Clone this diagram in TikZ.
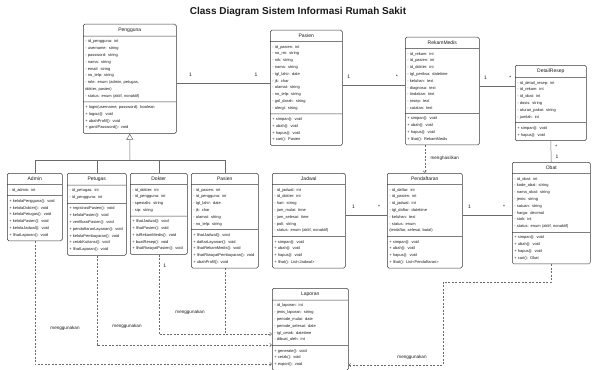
\documentclass[tikz,border=0pt]{standalone}
\usepackage{fontspec}
\setmainfont{Liberation Sans}
\usepackage{tikz}
\usetikzlibrary{positioning, calc}
\usetikzlibrary{arrows.meta, shapes.multipart}

\newcommand{\umlname}[1]{{\centering\fontsize{5}{6}\selectfont #1\par}}

\begin{document}
\begin{tikzpicture}[x=1pt, y=-1pt, font=\fontsize{4}{6.8}\selectfont, line width=0.5pt,
        classbox/.style={draw=boxgray, rectangle split, rectangle split parts=3, rounded corners=1.5pt,
            align=left, inner xsep=2pt, inner ysep=3.5pt, anchor=north west, text=textgray},
        assoc/.style={draw=linegray},
        dep/.style={draw=linegray, dash pattern=on 2pt off 1.5pt, -{Straight Barb[length=2pt, width=3.5pt]}},
        mult/.style={font=\fontsize{5}{6}\selectfont, text=textgray},
        note/.style={font=\fontsize{4.6}{6}\selectfont, text=textgray}]
        % Define colors
        \definecolor{boxgray}{rgb}{0.22, 0.22, 0.22}
        \definecolor{linegray}{rgb}{0.42, 0.42, 0.42}
        \definecolor{textgray}{rgb}{0.1, 0.1, 0.1}

        \useasboundingbox (0,0) rectangle (593,369);

        % Title
        \node[font=\fontsize{10}{12}\selectfont\bfseries, text=textgray] (title) at (298,12) {Class Diagram Sistem Informasi Rumah Sakit};

        % Nodes
        \node[classbox, text width=89pt] (pengguna) at (83,24) {\umlname{Pengguna}
            \nodepart{two}- id\_pengguna: int\\- username: string\\- password: string\\- nama: string\\- email: string\\- no\_telp: string\\- role: enum (admin, petugas,\\ dokter, pasien)\\- status: enum (aktif, nonaktif)
            \nodepart{three}+ login(username, password): boolean\\+ logout(): void\\+ ubahProfil(): void\\+ gantiPassword(): void};
        \node[classbox, text width=68pt] (pasien) at (270,30) {\umlname{Pasien}
            \nodepart{two}- id\_pasien: int\\- no\_rm: string\\- nik: string\\- nama: string\\- tgl\_lahir: date\\- jk: char\\- alamat: string\\- no\_telp: string\\- gol\_darah: string\\- alergi: string
            \nodepart{three}+ simpan(): void\\+ ubah(): void\\+ hapus(): void\\+ cari(): Pasien};
        \node[classbox, text width=70pt] (rekammedis) at (405,37) {\umlname{RekamMedis}
            \nodepart{two}- id\_rekam: int\\- id\_pasien: int\\- id\_dokter: int\\- tgl\_periksa: datetime\\- keluhan: text\\- diagnosa: text\\- tindakan: text\\- resep: text\\- catatan: text
            \nodepart{three}+ simpan(): void\\+ ubah(): void\\+ hapus(): void\\+ lihat(): RekamMedis};
        \node[classbox, text width=67pt] (detailresep) at (515,65) {\umlname{DetailResep}
            \nodepart{two}- id\_detail\_resep: int\\- id\_rekam: int\\- id\_obat: int\\- dosis: string\\- aturan\_pakai: string\\- jumlah: int
            \nodepart{three}+ simpan(): void\\+ hapus(): void};

        \node[classbox, text width=51pt, minimum height=95pt] (admin) at (7,173) {\umlname{Admin}
            \nodepart{two}- id\_admin: int
            \nodepart{three}+ kelolaPengguna(): void\\+ kelolaDokter(): void\\+ kelolaPetugas(): void\\+ kelolaPasien(): void\\+ kelolaJadwal(): void\\+ lihatLaporan(): void};
        \node[classbox, text width=55pt, minimum height=95pt] (petugas) at (67,173) {\umlname{Petugas}
            \nodepart{two}- id\_petugas: int\\- id\_pengguna: int
            \nodepart{three}+ registrasiPasien(): void\\+ kelolaPasien(): void\\+ verifikasiPasien(): void\\+ pendaftaranLayanan(): void\\+ kelolaPembayaran(): void\\+ cetakKuitansi(): void\\+ lihatLaporan(): void};
        \node[classbox, text width=53pt, minimum height=95pt] (dokter) at (130,173) {\umlname{Dokter}
            \nodepart{two}- id\_dokter: int\\- id\_pengguna: int\\- spesialis: string\\- sip: string
            \nodepart{three}+ lihatJadwal(): void\\+ lihatPasien(): void\\+ isiRekamMedis(): void\\+ buatResep(): void\\+ lihatRiwayatPasien(): void};
        \node[classbox, text width=63pt, minimum height=95pt] (pasienrole) at (191,173) {\umlname{Pasien}
            \nodepart{two}- id\_pasien: int\\- id\_pengguna: int\\- tgl\_lahir: date\\- jk: char\\- alamat: string\\- no\_telp: string
            \nodepart{three}+ lihatJadwal(): void\\+ daftarLayanan(): void\\+ lihatRekamMedis(): void\\\mbox{+ lihatRiwayatPembayaran(): void}\\+ ubahProfil(): void};

        \node[classbox, text width=69pt] (jadwal) at (272,173) {\umlname{Jadwal}
            \nodepart{two}- id\_jadwal: int\\- id\_dokter: int\\- hari: string\\- jam\_mulai: time\\- jam\_selesai: time\\- poli: string\\- status: enum (aktif, nonaktif)
            \nodepart{three}+ simpan(): void\\+ ubah(): void\\+ hapus(): void\\+ lihat(): List<Jadwal>};
        \node[classbox, text width=71pt] (pendaftaran) at (387,173) {\umlname{Pendaftaran}
            \nodepart{two}- id\_daftar: int\\- id\_pasien: int\\- id\_jadwal: int\\- tgl\_daftar: datetime\\- keluhan: text\\- status: enum\\ (terdaftar, selesai, batal)
            \nodepart{three}+ simpan(): void\\+ ubah(): void\\+ hapus(): void\\+ lihat(): List<Pendaftaran>};
        \node[classbox, text width=74pt] (obat) at (512,162) {\umlname{Obat}
            \nodepart{two}- id\_obat: int\\- kode\_obat: string\\- nama\_obat: string\\- jenis: string\\- satuan: string\\- harga: decimal\\- stok: int\\- status: enum (aktif, nonaktif)
            \nodepart{three}+ simpan(): void\\+ ubah(): void\\+ hapus(): void\\+ cari(): Obat};
        \node[classbox, text width=72pt] (laporan) at (272,288) {\umlname{Laporan}
            \nodepart{two}- id\_laporan: int\\- jenis\_laporan: string\\- periode\_mulai: date\\- periode\_selesai: date\\- tgl\_cetak: datetime\\- dibuat\_oleh: int
            \nodepart{three}+ generate(): void\\+ cetak(): void\\+ export(): void};

        % Generalisation
        \coordinate (hub) at (130,160);
        \draw[assoc, -{Triangle[open, length=6pt, width=7pt]}] (hub) -- (pengguna.south);
        \foreach \c in {admin, petugas, dokter, pasienrole} {
            \draw[assoc] (\c.north) |- (hub);
        }

        % Associations
        \draw[assoc] ([yshift=-4.5pt]pengguna.east) coordinate (a1) -- (a1 -| pasien.west)
            node[mult, pos=0.15, above=3pt] {1} node[mult, pos=0.85, above=3pt] {1};
        \draw[assoc] ([yshift=2.5pt]pasien.east) coordinate (a2) -- (a2 -| rekammedis.west)
            node[mult, pos=0.1, above=3pt] {1} node[mult, pos=0.87, above=3pt] {*};
        \draw[assoc] ([yshift=4.5pt]rekammedis.east) coordinate (a3) -- (a3 -| detailresep.west)
            node[mult, pos=0.17, above=3pt] {1} node[mult, pos=0.87, above=3pt] {*};
        \draw[assoc] (detailresep.south) -- (obat.north)
            node[mult, pos=0.3, right=1pt] {*} node[mult, pos=0.75, right=1pt] {1};
        \draw[assoc] ([yshift=5.5pt]jadwal.east) coordinate (a4) -- (a4 -| pendaftaran.west)
            node[mult, pos=0.19, above=3pt] {1} node[mult, pos=0.81, above=3pt] {*};
        \draw[assoc] (a4 -| pendaftaran.east) -- (a4 -| obat.west)
            node[mult, pos=0.14, above=3pt] {1} node[mult, pos=0.84, above=3pt] {*};

        % Dependencies
        \draw[dep] (pendaftaran.north |- rekammedis.south) -- (pendaftaran.north);
        \node[note, anchor=west] (hasil) at (427,158) {menghasilkan};

        \draw[dep] (admin.south) |- (laporan.west |- 0,364);
        \draw[dep] (petugas.south) |- (laporan.west |- 0,345);
        \draw[dep] (dokter.south) |- (laporan.west |- 0,334)
            node[mult, pos=0.07, right=1pt] {1};
        \draw[dep, -] (pasienrole.south) -- (pasienrole.south |- 0,334);
        \coordinate (bend) at (443,282);
        \draw[dep] (obat.south) |- (bend) |- (laporan.east |- 0,365);

        \node[note] (use1) at (65,328) {menggunakan};
        \node[note] (use2) at (127,326) {menggunakan};
        \node[note] (use3) at (190,312) {menggunakan};
        \node[note] (use4) at (412,357) {menggunakan};
    \end{tikzpicture}
\end{document}
